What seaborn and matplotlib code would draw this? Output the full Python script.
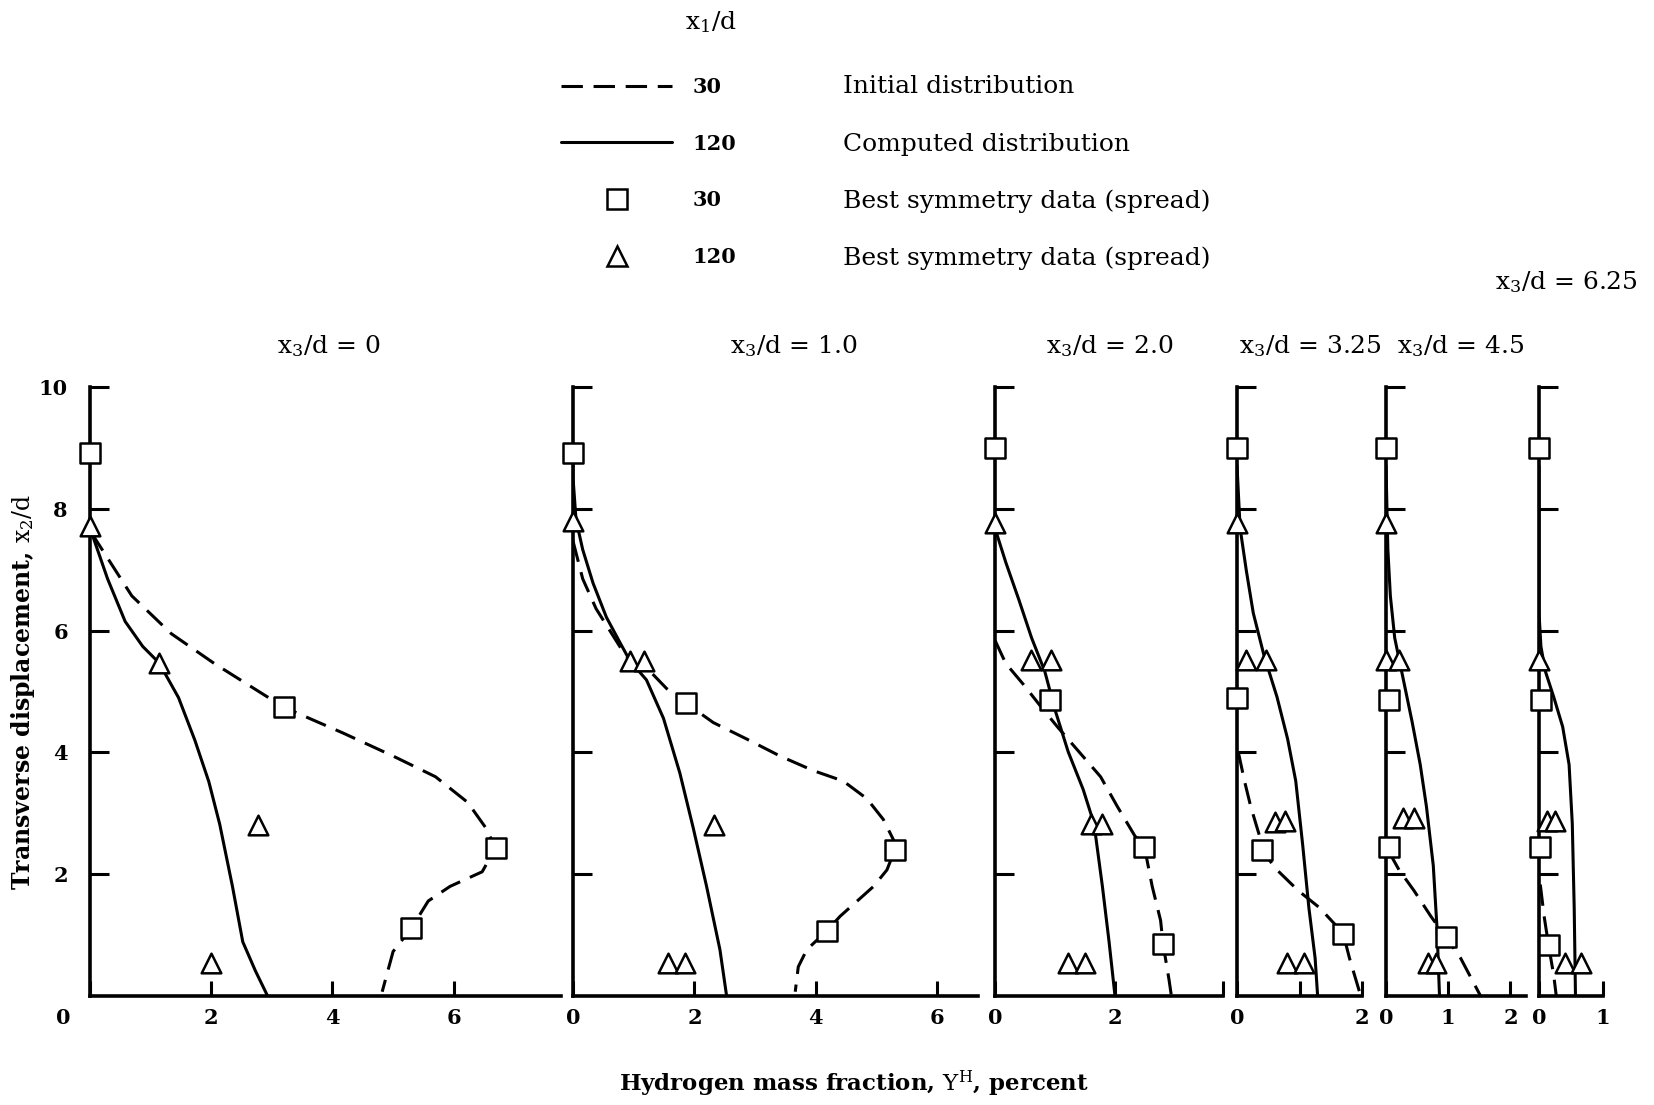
import matplotlib
matplotlib.use("Agg")
import seaborn as sns
import matplotlib.pyplot as plt
from matplotlib.lines import Line2D
from matplotlib.transforms import ScaledTranslation

# x3/d stations, one panel each
stations = ["0", "1.0", "2.0", "3.25", "4.5", "6.25"]

# x1/d = 30, initial distribution (dashed): Y^H (percent) vs x2/d
init_yh = [
    [0.02, 0.69, 1.34, 2.05, 3.2, 4.17, 5.0, 5.7, 6.23, 6.53, 6.69, 6.47, 5.94, 5.58, 5.3, 5.0, 4.82],
    [0.0, 0.16, 0.38, 0.77, 0.94, 1.27, 1.54, 1.86, 2.31, 2.86, 3.41, 3.96, 4.45, 4.84, 5.11, 5.28,
     5.3, 5.17, 4.95, 4.67, 4.4, 4.18, 3.85, 3.71, 3.66],
    [0.0, 0.18, 0.47, 0.75, 1.04, 1.4, 1.76, 2.04, 2.33, 2.49, 2.62, 2.76, 2.8, 2.9, 2.94],
    [0.02, 0.12, 0.22, 0.36, 0.39, 0.64, 0.98, 1.32, 1.6, 1.7, 1.8, 1.98],
    [0.04, 0.21, 0.45, 0.72, 0.96, 1.2, 1.52],
    [0.02, 0.08, 0.15, 0.23, 0.27],
]
init_x2 = [
    [7.61, 6.57, 5.95, 5.46, 4.74, 4.32, 3.94, 3.6, 3.18, 2.76, 2.43, 2.04, 1.8, 1.56, 1.11, 0.73, 0.07],
    [7.47, 6.85, 6.36, 5.74, 5.5, 5.33, 5.05, 4.81, 4.49, 4.22, 3.94, 3.7, 3.53, 3.24, 2.9, 2.56,
     2.4, 2.07, 1.8, 1.55, 1.31, 1.07, 0.76, 0.48, 0.07],
    [5.84, 5.46, 5.12, 4.77, 4.42, 4.01, 3.6, 3.11, 2.63, 2.45, 1.8, 1.24, 0.86, 0.27, 0.0],
    [4.01, 3.53, 3.11, 2.63, 2.4, 2.07, 1.73, 1.45, 1.14, 1.02, 0.62, 0.0],
    [2.38, 2.07, 1.73, 1.31, 0.97, 0.62, 0.0],
    [1.83, 1.31, 0.83, 0.34, 0.0],
]

# x1/d = 120, computed distribution (solid)
comp_yh = [
    [0.0, 0.05, 0.29, 0.58, 0.87, 1.14, 1.46, 1.73, 1.96, 2.14, 2.35, 2.52, 2.73, 2.93],
    [0.0, 0.0, 0.05, 0.16, 0.33, 0.55, 0.77, 0.94, 1.21, 1.49, 1.76, 1.98, 2.2, 2.42, 2.53],
    [0.0, 0.18, 0.4, 0.61, 0.83, 1.0, 1.22, 1.47, 1.65, 1.79, 1.9, 2.0],
    [0.0, 0.05, 0.15, 0.26, 0.43, 0.64, 0.81, 0.94, 1.05, 1.15, 1.25, 1.29],
    [0.0, 0.03, 0.07, 0.14, 0.28, 0.42, 0.55, 0.65, 0.76, 0.82, 0.86],
    [0.0, 0.0, 0.03, 0.1, 0.23, 0.37, 0.47, 0.52, 0.55, 0.57],
]
comp_x2 = [
    [7.75, 7.54, 6.85, 6.15, 5.74, 5.47, 4.9, 4.2, 3.52, 2.82, 1.8, 0.89, 0.41, 0.0],
    [8.75, 8.51, 7.82, 7.33, 6.78, 6.22, 5.81, 5.5, 5.19, 4.56, 3.66, 2.76, 1.8, 0.76, 0.0],
    [7.68, 7.12, 6.5, 5.88, 5.33, 4.7, 4.01, 3.39, 2.83, 1.8, 0.9, 0.0],
    [8.71, 7.68, 6.98, 6.29, 5.6, 4.91, 4.22, 3.53, 2.49, 1.45, 0.62, 0.0],
    [8.71, 7.33, 6.57, 5.88, 5.19, 4.5, 3.8, 3.11, 2.14, 1.11, 0.0],
    [8.7, 6.29, 5.74, 5.33, 4.91, 4.42, 3.8, 2.83, 1.45, 0.0],
]

# best symmetry data, x1/d = 30 (squares)
sq_yh = [
    [0.0, 3.2, 6.69, 5.3],
    [0.0, 1.86, 5.3, 4.18],
    [0.0, 0.91, 2.49, 2.8],
    [0.0, 0.0, 0.4, 1.7],
    [0.0, 0.05, 0.05, 0.96],
    [0.0, 0.03, 0.01, 0.15],
]
sq_x2 = [
    [8.92, 4.74, 2.43, 1.11],
    [8.92, 4.81, 2.4, 1.07],
    [9.0, 4.86, 2.45, 0.86],
    [9.0, 4.9, 2.4, 1.02],
    [9.0, 4.86, 2.45, 0.97],
    [9.0, 4.86, 2.45, 0.83],
]

# best symmetry data, x1/d = 120 (triangles)
tri_yh = [
    [0.0, 1.14, 2.77, 2.0],
    [0.0, 0.94, 1.17, 2.33, 1.57, 1.85],
    [0.0, 0.6, 0.93, 1.6, 1.78, 1.22, 1.5],
    [0.0, 0.15, 0.46, 0.6, 0.77, 0.8, 1.07],
    [0.0, 0.0, 0.21, 0.28, 0.45, 0.68, 0.81],
    [0.0, 0.12, 0.25, 0.41, 0.66],
]
tri_x2 = [
    [7.72, 5.47, 2.8, 0.55],
    [7.8, 5.5, 5.5, 2.8, 0.55, 0.55],
    [7.77, 5.52, 5.52, 2.83, 2.83, 0.55, 0.55],
    [7.77, 5.52, 5.52, 2.86, 2.88, 0.55, 0.55],
    [7.77, 5.52, 5.52, 2.93, 2.93, 0.55, 0.55],
    [5.52, 2.87, 2.87, 0.55, 0.55],
]

xmaxs = [7.77, 6.67, 3.8, 2.0, 2.25, 1.0]
xticks = [[0, 2, 4, 6], [0, 2, 4, 6], [0, 2, 3.8], [0, 1, 2], [0, 1, 2], [0, 1]]
xticklabels = [["0", "2", "4", "6"], ["0", "2", "4", "6"], ["0", "2", ""],
               ["0", "", "2"], ["0", "1", "2"], ["0", "1"]]

sns.set_theme(style="ticks")
plt.rcParams["font.family"] = ["DejaVu Serif"]
plt.rcParams["mathtext.fontset"] = "dejavuserif"
plt.rcParams["text.color"] = "black"
plt.rcParams["axes.labelcolor"] = "black"

W, H = 1654, 1105
fig = plt.figure(figsize=(W / 100, H / 100), dpi=100)

# panel placement in pixels
lefts = [90, 573, 995, 1237, 1386, 1539]
rights = [561, 978, 1223, 1362, 1526, 1603]
top_px, bot_px = 387, 996

lw = 2.2
dash = (0, (7, 3.5))
tick_font = {"family": "DejaVu Serif", "weight": "bold", "size": 15}

for i, st in enumerate(stations):
    ax = fig.add_axes([lefts[i] / W, 1 - bot_px / H,
                       (rights[i] - lefts[i]) / W, (bot_px - top_px) / H])
    sns.lineplot(x=init_yh[i], y=init_x2[i], sort=False, estimator=None, ax=ax,
                 color="black", lw=lw, linestyle=dash)
    sns.lineplot(x=comp_yh[i], y=comp_x2[i], sort=False, estimator=None, ax=ax,
                 color="black", lw=lw)
    sns.scatterplot(x=sq_yh[i], y=sq_x2[i], marker="s", s=190, color="white",
                    edgecolor="black", linewidth=1.8, ax=ax, zorder=5, clip_on=False)
    sns.scatterplot(x=tri_yh[i], y=tri_x2[i], marker="^", s=200, color="white",
                    edgecolor="black", linewidth=1.8, ax=ax, zorder=5, clip_on=False)

    ax.set_xlim(0, xmaxs[i])
    ax.set_ylim(0, 10)
    sns.despine(ax=ax)
    for side in ["left", "bottom"]:
        ax.spines[side].set_linewidth(2.6)
        ax.spines[side].set_color("black")
    ax.set_xticks(xticks[i])
    ax.set_xticklabels(xticklabels[i], fontdict=tick_font)
    ax.set_yticks([2, 4, 6, 8, 10])
    ax.tick_params(axis="x", bottom=True, direction="in", length=11, width=2.2, pad=9,
                   colors="black")
    ax.tick_params(axis="y", left=True, direction="in", length=14, width=2.2, pad=16,
                   colors="black")
    ax.set_xlabel("")
    ax.set_ylabel("")
    if i == 0:
        ax.set_yticklabels(["2", "4", "6", "8", "10"], fontdict=tick_font)
        # shared origin label sits left of the axis
        zero = ax.get_xticklabels()[0]
        zero.set_transform(zero.get_transform() + ScaledTranslation(-0.27, 0, fig.dpi_scale_trans))
        ax.set_ylabel(r"Transverse displacement, $\mathrm{x_2/d}$", fontsize=17,
                      fontweight="bold")
        ax.yaxis.set_label_coords((37 - 90) / (561 - 90), 0.5)
    else:
        ax.tick_params(axis="y", labelleft=False)

# panel headings
title_x = [329, 794, 1110, 1310, 1461, 1566]
title_y = [353, 353, 353, 353, 353, 289]
for st, tx, ty in zip(stations, title_x, title_y):
    fig.text(tx / W, 1 - ty / H, r"$\mathrm{x_3/d}$ = " + st, ha="center", va="baseline",
             fontsize=18)

fig.text(854 / W, 1 - 1084 / H, r"Hydrogen mass fraction, $\mathrm{Y^H}$, percent",
         ha="center", va="center", fontsize=16.5, fontweight="bold")

# legend block
handles = [
    Line2D([], [], color="black", lw=lw, linestyle=dash),
    Line2D([], [], color="black", lw=lw),
    Line2D([], [], color="black", lw=0, marker="s", ms=14, mfc="white", mew=1.8),
    Line2D([], [], color="black", lw=0, marker="^", ms=14, mfc="white", mew=1.8),
]
fig.legend(handles, ["30", "120", "30", "120"], loc="upper left",
           bbox_to_anchor=(561 / W, 1 - 77 / H), frameon=False, handlelength=5.33,
           handletextpad=1.0, labelspacing=1.76, borderpad=0, borderaxespad=0,
           prop={"family": "DejaVu Serif", "weight": "bold", "size": 15})
fig.text(711 / W, 1 - 22 / H, r"$\mathrm{x_1/d}$", ha="center", va="center", fontsize=18)
desc = ["Initial distribution", "Computed distribution",
        "Best symmetry data (spread)", "Best symmetry data (spread)"]
for txt, ry in zip(desc, [87, 144, 201, 258]):
    fig.text(843 / W, 1 - ry / H, txt, ha="left", va="center", fontsize=18)

fig.savefig("out.png", dpi=100)
